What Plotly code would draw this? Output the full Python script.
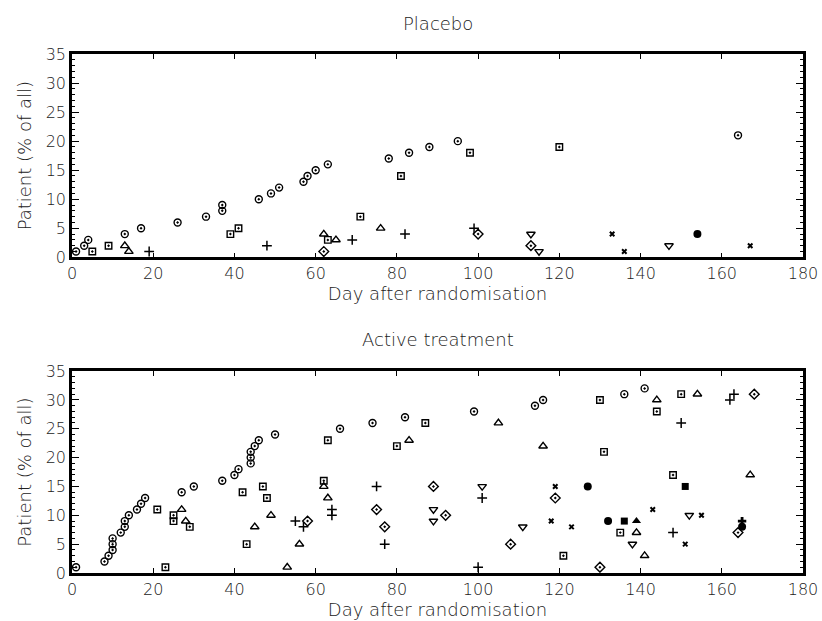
import plotly.graph_objects as go

# ---------------- data ----------------
# Placebo panel
pl_circle_day = [1, 3, 4, 13, 17, 26, 33, 37, 37, 46, 49, 51, 57, 58, 60, 63, 78, 83, 88, 95, 164]
pl_circle_pct = [1, 2, 3, 4, 5, 6, 7, 8, 9, 10, 11, 12, 13, 14, 15, 16, 17, 18, 19, 20, 21]
pl_square_day = [5, 9, 39, 41, 63, 71, 81, 98, 120]
pl_square_pct = [1, 2, 4, 5, 3, 7, 14, 18, 19]
pl_triup_day = [13, 14, 62, 65, 76]
pl_triup_pct = [2, 1, 4, 3, 5]
pl_plus_day = [19, 48, 69, 82, 99]
pl_plus_pct = [1, 2, 3, 4, 5]
pl_diamond_day = [62, 100, 113]
pl_diamond_pct = [1, 4, 2]
pl_tridown_day = [113, 115, 147]
pl_tridown_pct = [4, 1, 2]
pl_x_day = [133, 136, 167]
pl_x_pct = [4, 1, 2]
pl_fcircle_day = [154]
pl_fcircle_pct = [4]

# Active treatment panel
ac_circle_day = [1, 8, 9, 10, 10, 10, 12, 13, 13, 14, 16, 17, 18, 27, 30, 37, 40, 41, 44, 44,
                 44, 45, 46, 50, 66, 74, 82, 99, 114, 116, 136, 141]
ac_circle_pct = [1, 2, 3, 4, 5, 6, 7, 8, 9, 10, 11, 12, 13, 14, 15, 16, 17, 18, 19, 20,
                 21, 22, 23, 24, 25, 26, 27, 28, 29, 30, 31, 32]
ac_square_day = [21, 23, 25, 25, 29, 42, 43, 47, 48, 62, 63, 80, 87, 121, 130, 131, 135, 144, 148, 150]
ac_square_pct = [11, 1, 10, 9, 8, 14, 5, 15, 13, 16, 23, 22, 26, 3, 30, 21, 7, 28, 17, 31]
ac_triup_day = [27, 28, 45, 49, 53, 56, 62, 63, 83, 105, 116, 139, 141, 144, 154, 167]
ac_triup_pct = [11, 9, 8, 10, 1, 5, 15, 13, 23, 26, 22, 7, 3, 30, 31, 17]
ac_plus_day = [55, 57, 64, 64, 75, 77, 100, 101, 148, 150, 162, 163]
ac_plus_pct = [9, 8, 11, 10, 15, 5, 1, 13, 7, 26, 30, 31]
ac_diamond_day = [58, 75, 77, 89, 92, 108, 119, 130, 164, 168]
ac_diamond_pct = [9, 11, 8, 15, 10, 5, 13, 1, 7, 31]
ac_tridown_day = [89, 89, 101, 111, 138, 152]
ac_tridown_pct = [11, 9, 15, 8, 5, 10]
ac_x_day = [118, 119, 123, 143, 151, 155]
ac_x_pct = [9, 15, 8, 11, 5, 10]
ac_fcircle_day = [127, 132, 165]
ac_fcircle_pct = [15, 9, 8]
ac_fsquare_day = [136, 151]
ac_fsquare_pct = [9, 15]
ac_ftri_day = [139]
ac_ftri_pct = [9]
ac_fcross_day = [165]
ac_fcross_pct = [9]

x_ticks = [0, 20, 40, 60, 80, 100, 120, 140, 160, 180]
y_ticks = [0, 5, 10, 15, 20, 25, 30, 35]

# ---------------- styles ----------------
LW = 1.4
STY = {
    "circle": dict(symbol="circle-open-dot", size=7, color="black", line=dict(width=LW, color="black")),
    "square": dict(symbol="square-open-dot", size=6.5, color="black", line=dict(width=LW, color="black")),
    "triup": dict(symbol="triangle-up-open", size=7.5, color="black", line=dict(width=LW, color="black")),
    "plus": dict(symbol="cross-thin-open", size=7, color="black", line=dict(width=1.5, color="black")),
    "diamond": dict(symbol="diamond-open-dot", size=7.5, color="black", line=dict(width=LW, color="black")),
    "tridown": dict(symbol="triangle-down-open", size=7.5, color="black", line=dict(width=LW, color="black")),
    "x": dict(symbol="x-thin-open", size=4.5, color="black", line=dict(width=2, color="black")),
    "fcircle": dict(symbol="circle", size=8, color="black", line=dict(width=0)),
    "fsquare": dict(symbol="square", size=7, color="black", line=dict(width=0)),
    "ftri": dict(symbol="triangle-up", size=8, color="black", line=dict(width=0)),
    "fcross": dict(symbol="cross", size=7, color="black", line=dict(width=0)),
}

fig = go.Figure()

def add(days, pct, style, xa, ya):
    fig.add_trace(go.Scatter(x=days, y=pct, mode="markers", xaxis=xa, yaxis=ya,
                             marker=STY[style], showlegend=False, hoverinfo="x+y"))

for d, p, s in [(pl_circle_day, pl_circle_pct, "circle"), (pl_square_day, pl_square_pct, "square"),
                (pl_triup_day, pl_triup_pct, "triup"), (pl_plus_day, pl_plus_pct, "plus"),
                (pl_diamond_day, pl_diamond_pct, "diamond"), (pl_tridown_day, pl_tridown_pct, "tridown"),
                (pl_x_day, pl_x_pct, "x"), (pl_fcircle_day, pl_fcircle_pct, "fcircle")]:
    add(d, p, s, "x", "y")

for d, p, s in [(ac_circle_day, ac_circle_pct, "circle"), (ac_square_day, ac_square_pct, "square"),
                (ac_triup_day, ac_triup_pct, "triup"), (ac_plus_day, ac_plus_pct, "plus"),
                (ac_diamond_day, ac_diamond_pct, "diamond"), (ac_tridown_day, ac_tridown_pct, "tridown"),
                (ac_x_day, ac_x_pct, "x"), (ac_fcircle_day, ac_fcircle_pct, "fcircle"),
                (ac_fsquare_day, ac_fsquare_pct, "fsquare"), (ac_ftri_day, ac_ftri_pct, "ftri"),
                (ac_fcross_day, ac_fcross_pct, "fcross")]:
    add(d, p, s, "x2", "y2")

FAM = "DejaVu Sans, Liberation Sans, sans-serif"
TICKFONT = dict(family=FAM, size=16, color="#222222", weight=300)
FONT = dict(family=FAM, size=18, color="#222222", weight=300)

def xaxis(anchor):
    return dict(range=[0, 180], tickvals=x_ticks, ticks="inside", ticklen=5, tickwidth=1,
                tickcolor="black", showline=True, linewidth=2.5, linecolor="black",
                mirror="ticks", showgrid=False, zeroline=False, anchor=anchor,
                tickfont=TICKFONT, automargin=False,
                title=dict(text="Day after randomisation", font=FONT, standoff=4))

def yaxis(domain, anchor):
    return dict(domain=domain, range=[0, 35], tickvals=y_ticks, ticks="inside", ticklen=7,
                tickwidth=1, tickcolor="black", showline=True, linewidth=2.5, linecolor="black",
                mirror="ticks", showgrid=False, zeroline=False, anchor=anchor, tickfont=TICKFONT,
                automargin=False,
                minor=dict(ticks="inside", ticklen=3, dtick=1, tickwidth=1, tickcolor="black",
                           showgrid=False),
                title=dict(text="Patient (% of all)", font=FONT, standoff=10))

M_T, M_B = 54.3, 47.5
plot_h = 621 - M_T - M_B

def paper_y(ypix):
    return (621 - M_B - ypix) / plot_h

fig.update_layout(
    width=822, height=621,
    template="none",
    paper_bgcolor="white", plot_bgcolor="white",
    margin=dict(l=71.5, r=19.3, t=M_T, b=M_B, autoexpand=False),
    xaxis=xaxis("y"),
    yaxis=yaxis([paper_y(257.7), 1.0], "x"),
    xaxis2=xaxis("y2"),
    yaxis2=yaxis([0.0, paper_y(371.5)], "x2"),
    annotations=[
        dict(text="Placebo", x=0.5, y=paper_y(23.3), xref="paper", yref="paper", showarrow=False,
             font=FONT, xanchor="center", yanchor="middle"),
        dict(text="Active treatment", x=0.5, y=paper_y(340), xref="paper", yref="paper",
             showarrow=False, font=FONT, xanchor="center", yanchor="middle"),
    ],
)

fig.write_html("out.html")
